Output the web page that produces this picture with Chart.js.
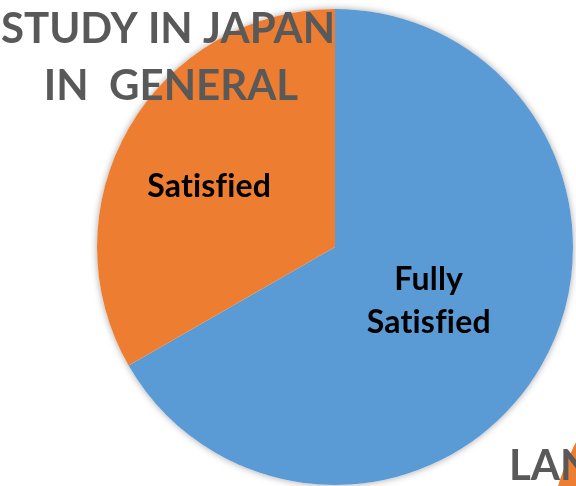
<!DOCTYPE html>
<html>
<head>
<meta charset="utf-8">
<title>Study in Japan in general</title>
<script src="https://cdn.jsdelivr.net/npm/chart.js@4.4.0/dist/chart.umd.min.js"></script>
<style>
  html, body { margin: 0; padding: 0; background: #fff; overflow: hidden; }
  body { width: 576px; height: 486px; position: relative; }
  #main { position: absolute; left: 0; top: 0; z-index: 2; }
  #next { position: absolute; left: 548px; top: 316px; z-index: 1; }
</style>
</head>
<body>

<canvas id="next" width="476" height="476"></canvas>
<canvas id="main" width="576" height="486"></canvas>

<script>
  // main pie
  var labels = [['Fully', 'Satisfied'], ['Satisfied']];
  var shares = [66.7, 33.3];
  var colors = ['#5B9BD5', '#ED7D31'];
  var titleLines = ['STUDY IN JAPAN', 'IN  GENERAL'];

  // the next chart on the slide, only its edge and title start are visible
  var nextTitle = 'LAN';
  var nextShares = [60, 40];

  var GREY = '#595959';
  var FONT = 'Lato, "Open Sans", sans-serif';

  // soft shadow under the whole pie, like the office chart
  var pieShadow = {
    id: 'pieShadow',
    beforeDatasetsDraw: function (chart) {
      var arc = chart.getDatasetMeta(0).data[0];
      if (!arc) return;
      var ctx = chart.ctx;
      ctx.save();
      ctx.shadowColor = 'rgba(0,0,0,0.35)';
      ctx.shadowBlur = 7;
      ctx.fillStyle = '#fff';
      ctx.beginPath();
      ctx.arc(arc.x, arc.y, arc.outerRadius, 0, Math.PI * 2);
      ctx.fill();
      ctx.restore();
    }
  };

  // slice names written inside the slices
  var sliceLabels = {
    id: 'sliceLabels',
    afterDatasetsDraw: function (chart, args, opts) {
      var ctx = chart.ctx;
      var meta = chart.getDatasetMeta(0);
      ctx.save();
      ctx.fillStyle = '#000';
      ctx.font = 'bold ' + opts.size + 'px ' + FONT;
      ctx.letterSpacing = '0.2px'; // keeps f and i apart (no ligature)
      ctx.textAlign = 'center';
      ctx.textBaseline = 'middle';
      meta.data.forEach(function (el, i) {
        var p = el.getProps(['x', 'y', 'startAngle', 'endAngle', 'outerRadius']);
        var mid = (p.startAngle + p.endAngle) / 2 + opts.turn[i] * Math.PI / 180;
        var r = p.outerRadius * opts.radius[i];
        var cx = p.x + Math.cos(mid) * r;
        var cy = p.y + Math.sin(mid) * r;
        var lines = chart.data.labels[i];
        var top = cy - (lines.length - 1) * opts.lineHeight / 2;
        lines.forEach(function (t, j) {
          ctx.fillText(t, cx, top + j * opts.lineHeight);
        });
      });
      ctx.restore();
    }
  };

  // big grey titles, drawn on top of the pie
  var slideTitles = {
    id: 'slideTitles',
    afterDraw: function (chart) {
      var ctx = chart.ctx;
      ctx.save();
      ctx.fillStyle = GREY;
      ctx.font = 'bold 42px ' + FONT;
      ctx.textBaseline = 'alphabetic';
      ctx.textAlign = 'center';
      ctx.fillText(titleLines[0], 168, 43);
      ctx.fillText(titleLines[1], 171, 100);
      ctx.textAlign = 'left';
      ctx.fillText(nextTitle, 509, 480);
      ctx.restore();
    }
  };

  var nextChart = new Chart(document.getElementById('next'), {
    type: 'pie',
    data: {
      labels: ['a', 'b'],
      datasets: [{
        data: nextShares,
        backgroundColor: colors,
        borderWidth: 0
      }]
    },
    options: {
      responsive: false,
      animation: false,
      events: [],
      layout: { padding: 0 },
      plugins: { legend: { display: false }, tooltip: { enabled: false } }
    }
  });

  var mainChart = new Chart(document.getElementById('main'), {
    type: 'pie',
    data: {
      labels: labels,
      datasets: [{
        data: shares,
        backgroundColor: colors,
        borderWidth: 0
      }]
    },
    options: {
      responsive: false,
      animation: false,
      events: [],
      layout: { padding: { left: 97, right: 3, top: 9, bottom: 1 } },
      plugins: {
        legend: { display: false },
        tooltip: { enabled: false },
        sliceLabels: { size: 32, lineHeight: 43, radius: [0.455, 0.586], turn: [0, -4.5] }
      }
    },
    plugins: [pieShadow, sliceLabels, slideTitles]
  });
</script>

</body>
</html>
